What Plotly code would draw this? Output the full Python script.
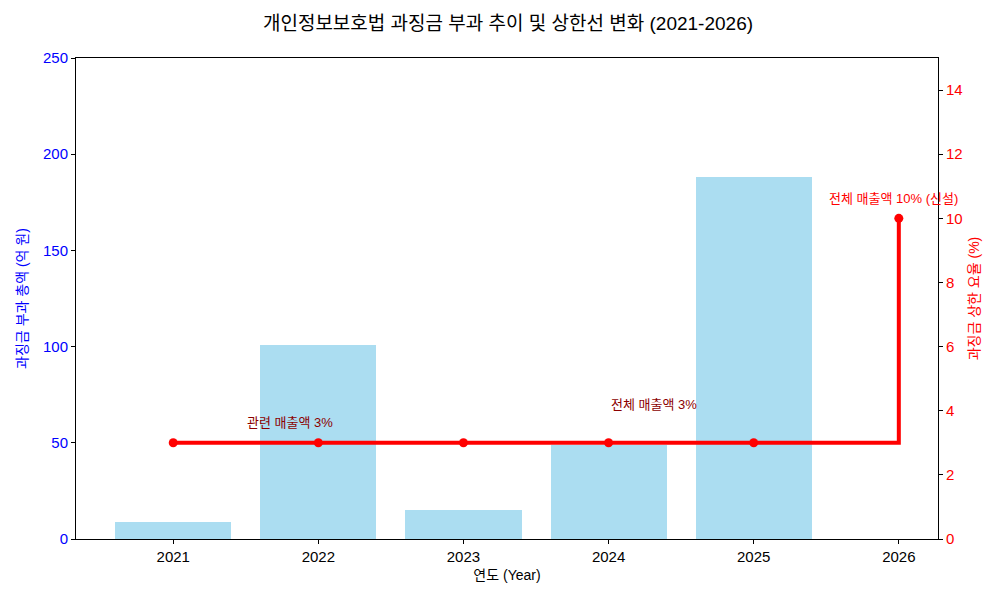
import plotly.graph_objects as go

years = [2021, 2022, 2023, 2024, 2025, 2026]
fine_totals = [8.8, 101, 15.3, 49, 188, None]   # 억 원
cap_rates = [3, 3, 3, 3, 3, 10]                 # %
ann_years = [2022, 2024, 2026]
ann_rates = [3, 3, 10]
ann_texts = ["관련 매출액 3%", "전체 매출액 3%", "전체 매출액 10% (신설)"]
ann_colors = ["#8B0000", "#8B0000", "red"]
ann_shift = [(-28, 20), (45, 38), (-5, 20)]

FONT = "Liberation Sans, Noto Sans CJK KR"

fig = go.Figure()
fig.add_trace(go.Bar(
    x=years, y=fine_totals, width=0.8,
    marker=dict(color="rgba(135,206,235,0.7)", line=dict(width=0)),
    name="과징금", yaxis="y", showlegend=False,
))
fig.add_trace(go.Scatter(
    x=years, y=cap_rates, yaxis="y2", mode="lines+markers",
    line=dict(color="red", width=4, shape="hv"),
    marker=dict(color="red", size=9),
    showlegend=False,
))

for x, y, t, c, (dx, dy) in zip(ann_years, ann_rates, ann_texts, ann_colors, ann_shift):
    fig.add_annotation(x=x, y=y, xref="x", yref="y2", text=t, showarrow=False,
                       xshift=dx, yshift=dy, font=dict(color=c, size=13, family=FONT))

fig.update_layout(
    width=1000, height=600,
    paper_bgcolor="white", plot_bgcolor="white",
    margin=dict(l=68, r=70, t=50, b=69, autoexpand=False),
    font=dict(family=FONT, color="black"),
    title=dict(text="개인정보보호법 과징금 부과 추이 및 상한선 변화 (2021-2026)",
               x=0.5, xanchor="center", y=0.975, yanchor="middle",
               font=dict(size=19, color="black", family=FONT)),
    bargap=0,
    xaxis=dict(range=[2020.33, 2026.27], tickvals=years, ticktext=[str(y) for y in years],
               showgrid=False, zeroline=False, showline=True, linecolor="black", linewidth=1,
               mirror=True, ticks="outside", ticklen=4, tickcolor="black",
               tickfont=dict(size=15, color="black"),
               title=dict(text="연도 (Year)", font=dict(size=14, color="black"), standoff=6)),
    yaxis=dict(range=[0, 250], tickvals=[0, 50, 100, 150, 200, 250],
               showgrid=False, zeroline=False, showline=True, linecolor="black", linewidth=1,
               ticks="outside", ticklen=4, tickcolor="black",
               tickfont=dict(size=15, color="blue"),
               title=dict(text="과징금 부과 총액 (억 원)", font=dict(size=14, color="blue"), standoff=12)),
    yaxis2=dict(range=[0, 15], tickvals=[0, 2, 4, 6, 8, 10, 12, 14], overlaying="y", side="right",
                showgrid=False, zeroline=False, showline=True, linecolor="black", linewidth=1,
                ticks="outside", ticklen=4, tickcolor="black",
                tickfont=dict(size=15, color="red"),
                title=dict(text="과징금 상한 요율 (%)", font=dict(size=14, color="red"), standoff=7)),
)

fig.write_html("out.html")
